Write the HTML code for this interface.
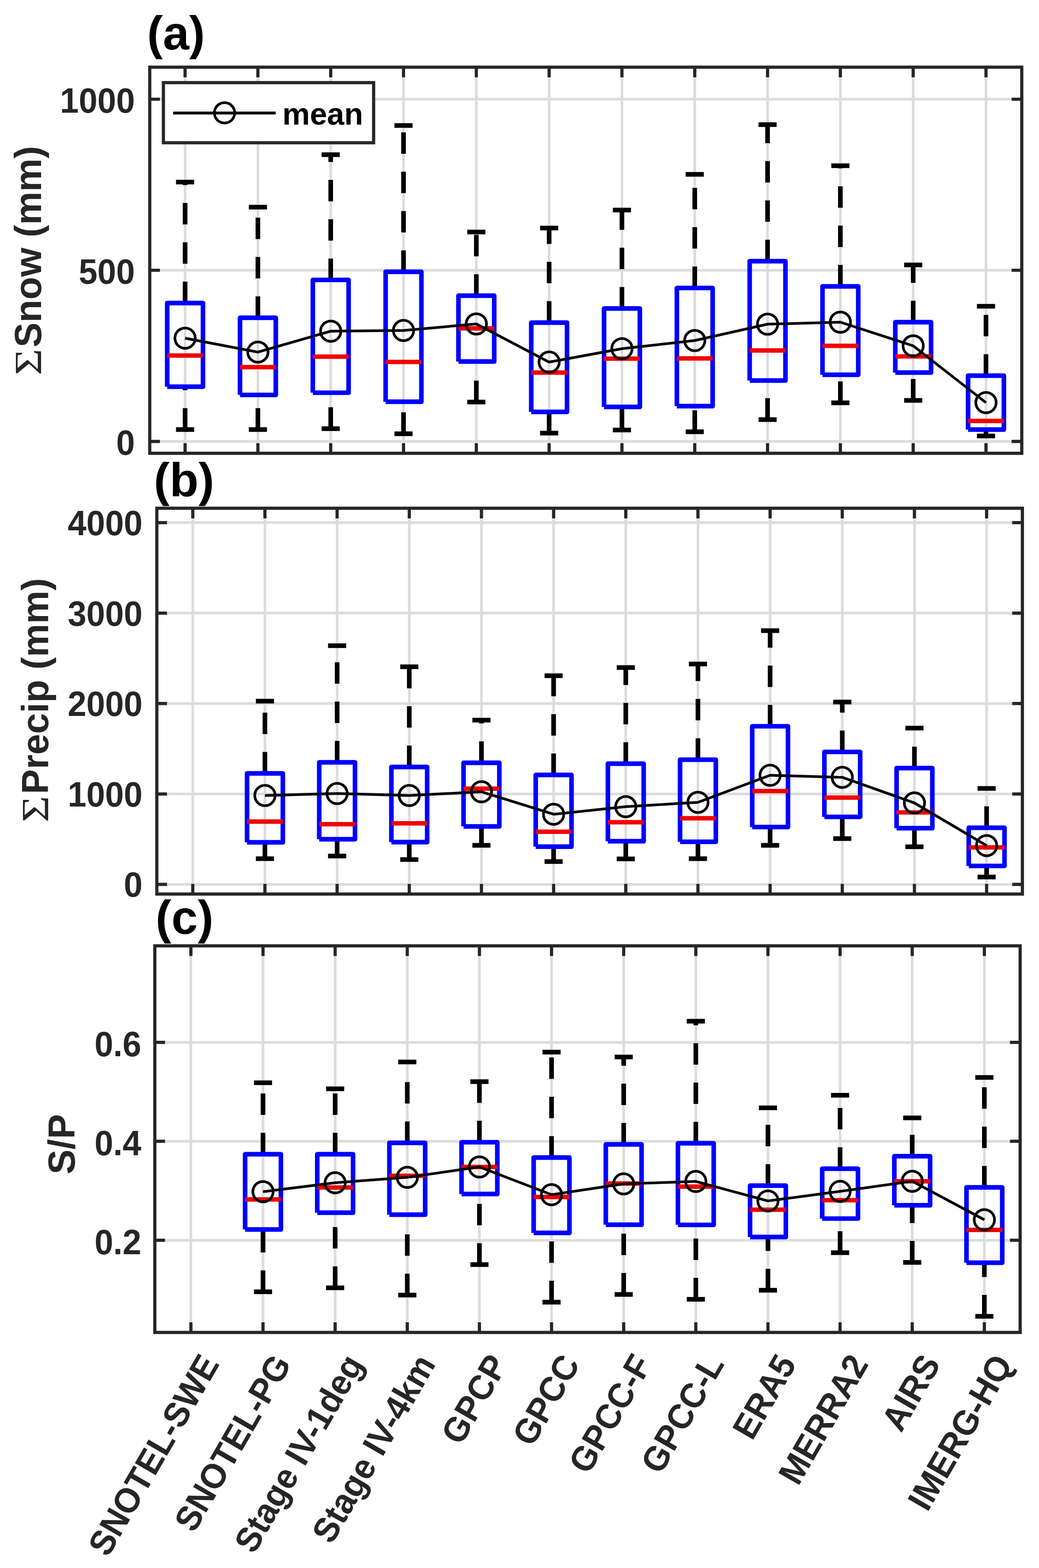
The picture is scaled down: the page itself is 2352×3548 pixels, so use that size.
<!DOCTYPE html><html><head><meta charset="utf-8"><title>Boxplots</title><style>html,body{margin:0;padding:0;background:#fff;}svg{display:block;}</style></head><body>
<svg width="2352" height="3548" viewBox="0 0 2352 3548">
<rect x="0" y="0" width="2352" height="3548" fill="#ffffff"/>
<g><path d="M419 152V1025.7M583.82 152V1025.7M748.64 152V1025.7M913.45 152V1025.7M1078.27 152V1025.7M1243.09 152V1025.7M1407.91 152V1025.7M1572.73 152V1025.7M1737.55 152V1025.7M1902.36 152V1025.7M2067.18 152V1025.7M2232 152V1025.7M339 998.8H2313M339 611.5H2313M339 224.5H2313" stroke="#dcdcdc" stroke-width="6.0" fill="none"/><g stroke="#000" stroke-width="10.5" fill="none" stroke-dasharray="48.5 40.5"><path d="M419 685.7V412M419 972V875"/><path d="M583.82 719V468.8M583.82 972V893.6"/><path d="M748.64 633.4V350M748.64 970V888.6"/><path d="M913.45 615V284M913.45 981.5V909"/><path d="M1078.27 669V525M1078.27 909.7V818"/><path d="M1243.09 730V516M1243.09 980V932"/><path d="M1407.91 698V475.3M1407.91 973V920.7"/><path d="M1572.73 651.6V394.6M1572.73 977V919"/><path d="M1737.55 591V282M1737.55 949.5V861"/><path d="M1902.36 648V375M1902.36 911.5V848"/><path d="M2067.18 729V599.4M2067.18 906V843"/><path d="M2232 850V693M2232 986.6V972"/></g><path d="M398.5 412H439.5M398.5 972H439.5M563.32 468.8H604.32M563.32 972H604.32M728.14 350H769.14M728.14 970H769.14M892.95 284H933.95M892.95 981.5H933.95M1057.77 525H1098.77M1057.77 909.7H1098.77M1222.59 516H1263.59M1222.59 980H1263.59M1387.41 475.3H1428.41M1387.41 973H1428.41M1552.23 394.6H1593.23M1552.23 977H1593.23M1717.05 282H1758.05M1717.05 949.5H1758.05M1881.86 375H1922.86M1881.86 911.5H1922.86M2046.68 599.4H2087.68M2046.68 906H2087.68M2211.5 693H2252.5M2211.5 986.6H2252.5" stroke="#000" stroke-width="10.5" fill="none"/><path d="M378.5 875V685.7H459.5V875H378.5M543.32 893.6V719H624.32V893.6H543.32M708.14 888.6V633.4H789.14V888.6H708.14M872.95 909V615H953.95V909H872.95M1037.77 818V669H1118.77V818H1037.77M1202.59 932V730H1283.59V932H1202.59M1367.41 920.7V698H1448.41V920.7H1367.41M1532.23 919V651.6H1613.23V919H1532.23M1697.05 861V591H1778.05V861H1697.05M1861.86 848V648H1942.86V848H1861.86M2026.68 843V729H2107.68V843H2026.68M2191.5 972V850H2272.5V972H2191.5" stroke="#0000ff" stroke-width="10.4" fill="none" stroke-linejoin="round"/><path d="M378.5 804.5H459.5M543.32 830.8H624.32M708.14 807H789.14M872.95 819H953.95M1037.77 743H1118.77M1202.59 843H1283.59M1367.41 811.5H1448.41M1532.23 811H1613.23M1697.05 793H1778.05M1861.86 782.6H1942.86M2026.68 806.6H2107.68M2191.5 952.5H2272.5" stroke="#f00000" stroke-width="10.0" fill="none"/><path d="M419 765.2L583.82 796.7L748.64 749.4L913.45 747.8L1078.27 733L1243.09 819.3L1407.91 789L1572.73 770.5L1737.55 733.5L1902.36 729L2067.18 782.5L2232 911" stroke="#000" stroke-width="6.0" fill="none" stroke-linejoin="round"/><g stroke="#000" stroke-width="6.0" fill="none"><circle cx="419" cy="765.2" r="23.0"/><circle cx="583.82" cy="796.7" r="23.0"/><circle cx="748.64" cy="749.4" r="23.0"/><circle cx="913.45" cy="747.8" r="23.0"/><circle cx="1078.27" cy="733" r="23.0"/><circle cx="1243.09" cy="819.3" r="23.0"/><circle cx="1407.91" cy="789" r="23.0"/><circle cx="1572.73" cy="770.5" r="23.0"/><circle cx="1737.55" cy="733.5" r="23.0"/><circle cx="1902.36" cy="729" r="23.0"/><circle cx="2067.18" cy="782.5" r="23.0"/><circle cx="2232" cy="911" r="23.0"/></g><path d="M419 152v23M419 1025.7v-23M583.82 152v23M583.82 1025.7v-23M748.64 152v23M748.64 1025.7v-23M913.45 152v23M913.45 1025.7v-23M1078.27 152v23M1078.27 1025.7v-23M1243.09 152v23M1243.09 1025.7v-23M1407.91 152v23M1407.91 1025.7v-23M1572.73 152v23M1572.73 1025.7v-23M1737.55 152v23M1737.55 1025.7v-23M1902.36 152v23M1902.36 1025.7v-23M2067.18 152v23M2067.18 1025.7v-23M2232 152v23M2232 1025.7v-23M339 998.8h23M2313 998.8h-23M339 611.5h23M2313 611.5h-23M339 224.5h23M2313 224.5h-23" stroke="#262626" stroke-width="7.2" fill="none"/><rect x="339" y="152" width="1974" height="873.7" stroke="#262626" stroke-width="7.2" fill="none" stroke-linejoin="miter"/><g font-family="'Liberation Sans', Arial, Helvetica, sans-serif" font-weight="bold" font-size="76.2" fill="#262626" text-anchor="end"><text transform="translate(305.3 1029) scale(1 1.04)">0</text><text transform="translate(305.3 641.7) scale(1 1.04)">500</text><text transform="translate(305.3 254.7) scale(1 1.04)">1000</text></g><text transform="translate(92.5 786.1) rotate(-90)" font-size="84.6" fill="#262626" font-family="'Liberation Sans', Arial, Helvetica, sans-serif" font-weight="bold">Snow (mm)</text><text transform="translate(92.5 849) rotate(-90) scale(1.182 1)" font-size="87" fill="#262626" font-family="'Liberation Serif', 'Times New Roman', serif">&#931;</text><text x="333.1" y="112.2" font-family="'Liberation Sans', Arial, Helvetica, sans-serif" font-weight="bold" font-size="107" fill="#000">(a)</text></g>
<g><path d="M436.4 1150V2023M599.76 1150V2023M763.13 1150V2023M926.49 1150V2023M1089.85 1150V2023M1253.22 1150V2023M1416.58 1150V2023M1579.95 1150V2023M1743.31 1150V2023M1906.67 1150V2023M2070.04 1150V2023M2233.4 1150V2023M355 2001.2H2314.4M355 1796.6H2314.4M355 1591.9H2314.4M355 1387.3H2314.4M355 1182.6H2314.4" stroke="#dcdcdc" stroke-width="6.0" fill="none"/><g stroke="#000" stroke-width="10.5" fill="none" stroke-dasharray="48.5 40.5"><path d="M599.76 1750V1586.6M599.76 1943V1906"/><path d="M763.13 1725V1461M763.13 1937V1899"/><path d="M926.49 1735.5V1508.7M926.49 1945V1905.5"/><path d="M1089.85 1726V1629.5M1089.85 1912.7V1870"/><path d="M1253.22 1753.5V1529M1253.22 1949.4V1915.8"/><path d="M1416.58 1728V1510.5M1416.58 1943.4V1903.5"/><path d="M1579.95 1719V1502.5M1579.95 1943V1904.7"/><path d="M1743.31 1643.4V1427M1743.31 1912.7V1871.4"/><path d="M1906.67 1701.4V1588.5M1906.67 1897.4V1848.4"/><path d="M2070.04 1738V1647.6M2070.04 1916V1874"/><path d="M2233.4 1873V1784M2233.4 1984.4V1959.4"/></g><path d="M579.26 1586.6H620.26M579.26 1943H620.26M742.63 1461H783.63M742.63 1937H783.63M905.99 1508.7H946.99M905.99 1945H946.99M1069.35 1629.5H1110.35M1069.35 1912.7H1110.35M1232.72 1529H1273.72M1232.72 1949.4H1273.72M1396.08 1510.5H1437.08M1396.08 1943.4H1437.08M1559.45 1502.5H1600.45M1559.45 1943H1600.45M1722.81 1427H1763.81M1722.81 1912.7H1763.81M1886.17 1588.5H1927.17M1886.17 1897.4H1927.17M2049.54 1647.6H2090.54M2049.54 1916H2090.54M2212.9 1784H2253.9M2212.9 1984.4H2253.9" stroke="#000" stroke-width="10.5" fill="none"/><path d="M559.26 1906V1750H640.26V1906H559.26M722.63 1899V1725H803.63V1899H722.63M885.99 1905.5V1735.5H966.99V1905.5H885.99M1049.35 1870V1726H1130.35V1870H1049.35M1212.72 1915.8V1753.5H1293.72V1915.8H1212.72M1376.08 1903.5V1728H1457.08V1903.5H1376.08M1539.45 1904.7V1719H1620.45V1904.7H1539.45M1702.81 1871.4V1643.4H1783.81V1871.4H1702.81M1866.17 1848.4V1701.4H1947.17V1848.4H1866.17M2029.54 1874V1738H2110.54V1874H2029.54M2192.9 1959.4V1873H2273.9V1959.4H2192.9" stroke="#0000ff" stroke-width="10.4" fill="none" stroke-linejoin="round"/><path d="M559.26 1859H640.26M722.63 1865H803.63M885.99 1863H966.99M1049.35 1784.5H1130.35M1212.72 1882H1293.72M1376.08 1860.6H1457.08M1539.45 1851.5H1620.45M1702.81 1790H1783.81M1866.17 1804.8H1947.17M2029.54 1838.3H2110.54M2192.9 1917.5H2273.9" stroke="#f00000" stroke-width="10.0" fill="none"/><path d="M599.76 1800L763.13 1795.6L926.49 1800L1089.85 1791.6L1253.22 1842.4L1416.58 1825.3L1579.95 1815.5L1743.31 1754.3L1906.67 1758.9L2070.04 1816.8L2233.4 1913.4" stroke="#000" stroke-width="6.0" fill="none" stroke-linejoin="round"/><g stroke="#000" stroke-width="6.0" fill="none"><circle cx="599.76" cy="1800" r="23.0"/><circle cx="763.13" cy="1795.6" r="23.0"/><circle cx="926.49" cy="1800" r="23.0"/><circle cx="1089.85" cy="1791.6" r="23.0"/><circle cx="1253.22" cy="1842.4" r="23.0"/><circle cx="1416.58" cy="1825.3" r="23.0"/><circle cx="1579.95" cy="1815.5" r="23.0"/><circle cx="1743.31" cy="1754.3" r="23.0"/><circle cx="1906.67" cy="1758.9" r="23.0"/><circle cx="2070.04" cy="1816.8" r="23.0"/><circle cx="2233.4" cy="1913.4" r="23.0"/></g><path d="M436.4 1150v23M436.4 2023v-23M599.76 1150v23M599.76 2023v-23M763.13 1150v23M763.13 2023v-23M926.49 1150v23M926.49 2023v-23M1089.85 1150v23M1089.85 2023v-23M1253.22 1150v23M1253.22 2023v-23M1416.58 1150v23M1416.58 2023v-23M1579.95 1150v23M1579.95 2023v-23M1743.31 1150v23M1743.31 2023v-23M1906.67 1150v23M1906.67 2023v-23M2070.04 1150v23M2070.04 2023v-23M2233.4 1150v23M2233.4 2023v-23M355 2001.2h23M2314.4 2001.2h-23M355 1796.6h23M2314.4 1796.6h-23M355 1591.9h23M2314.4 1591.9h-23M355 1387.3h23M2314.4 1387.3h-23M355 1182.6h23M2314.4 1182.6h-23" stroke="#262626" stroke-width="7.2" fill="none"/><rect x="355" y="1150" width="1959.4" height="873" stroke="#262626" stroke-width="7.2" fill="none" stroke-linejoin="miter"/><g font-family="'Liberation Sans', Arial, Helvetica, sans-serif" font-weight="bold" font-size="76.2" fill="#262626" text-anchor="end"><text transform="translate(322.7 2029.4) scale(1 1.04)">0</text><text transform="translate(322.7 1824.8) scale(1 1.04)">1000</text><text transform="translate(322.7 1620.1) scale(1 1.04)">2000</text><text transform="translate(322.7 1415.5) scale(1 1.04)">3000</text><text transform="translate(322.7 1210.8) scale(1 1.04)">4000</text></g><text transform="translate(109.3 1797) rotate(-90)" font-size="84.6" fill="#262626" font-family="'Liberation Sans', Arial, Helvetica, sans-serif" font-weight="bold">Precip (mm)</text><text transform="translate(109.3 1860.8) rotate(-90) scale(1.182 1)" font-size="87" fill="#262626" font-family="'Liberation Serif', 'Times New Roman', serif">&#931;</text><text x="348.3" y="1123" font-family="'Liberation Sans', Arial, Helvetica, sans-serif" font-weight="bold" font-size="107" fill="#000">(b)</text></g>
<g><path d="M432.1 2140.2V3015M595.39 2140.2V3015M758.68 2140.2V3015M921.97 2140.2V3015M1085.26 2140.2V3015M1248.55 2140.2V3015M1411.85 2140.2V3015M1575.14 2140.2V3015M1738.43 2140.2V3015M1901.72 2140.2V3015M2065.01 2140.2V3015M2228.3 2140.2V3015M350.5 2806.4H2309.3M350.5 2582.4H2309.3M350.5 2358.7H2309.3" stroke="#dcdcdc" stroke-width="6.0" fill="none"/><g stroke="#000" stroke-width="10.5" fill="none" stroke-dasharray="48.5 40.5"><path d="M595.39 2611.8V2450M595.39 2923V2782"/><path d="M758.68 2611.8V2463.7M758.68 2914V2744"/><path d="M921.97 2586V2403M921.97 2930.5V2748.5"/><path d="M1085.26 2584.6V2447.6M1085.26 2861.6V2701.8"/><path d="M1248.55 2619.3V2380.8M1248.55 2946.6V2789.8"/><path d="M1411.85 2589.5V2391.8M1411.85 2929V2771.3"/><path d="M1575.14 2587V2310.8M1575.14 2940V2771.6"/><path d="M1738.43 2682.8V2506.7M1738.43 2919.4V2799"/><path d="M1901.72 2644.5V2478.2M1901.72 2834.5V2757.4"/><path d="M2065.01 2616.3V2529.5M2065.01 2856.6V2727.2"/><path d="M2228.3 2686.8V2438M2228.3 2978.6V2857.2"/></g><path d="M574.89 2450H615.89M574.89 2923H615.89M738.18 2463.7H779.18M738.18 2914H779.18M901.47 2403H942.47M901.47 2930.5H942.47M1064.76 2447.6H1105.76M1064.76 2861.6H1105.76M1228.05 2380.8H1269.05M1228.05 2946.6H1269.05M1391.35 2391.8H1432.35M1391.35 2929H1432.35M1554.64 2310.8H1595.64M1554.64 2940H1595.64M1717.93 2506.7H1758.93M1717.93 2919.4H1758.93M1881.22 2478.2H1922.22M1881.22 2834.5H1922.22M2044.51 2529.5H2085.51M2044.51 2856.6H2085.51M2207.8 2438H2248.8M2207.8 2978.6H2248.8" stroke="#000" stroke-width="10.5" fill="none"/><path d="M554.89 2782V2611.8H635.89V2782H554.89M718.18 2744V2611.8H799.18V2744H718.18M881.47 2748.5V2586H962.47V2748.5H881.47M1044.76 2701.8V2584.6H1125.76V2701.8H1044.76M1208.05 2789.8V2619.3H1289.05V2789.8H1208.05M1371.35 2771.3V2589.5H1452.35V2771.3H1371.35M1534.64 2771.6V2587H1615.64V2771.6H1534.64M1697.93 2799V2682.8H1778.93V2799H1697.93M1861.22 2757.4V2644.5H1942.22V2757.4H1861.22M2024.51 2727.2V2616.3H2105.51V2727.2H2024.51M2187.8 2857.2V2686.8H2268.8V2857.2H2187.8" stroke="#0000ff" stroke-width="10.4" fill="none" stroke-linejoin="round"/><path d="M554.89 2714H635.89M718.18 2687H799.18M881.47 2660.5H962.47M1044.76 2640.5H1125.76M1208.05 2708.6H1289.05M1371.35 2678H1452.35M1534.64 2685H1615.64M1697.93 2737.3H1778.93M1861.22 2715.7H1942.22M2024.51 2673H2105.51M2187.8 2783H2268.8" stroke="#f00000" stroke-width="10.0" fill="none"/><path d="M595.39 2696.5L758.68 2676.3L921.97 2664.1L1085.26 2640.5L1248.55 2703.3L1411.85 2678.8L1575.14 2673.3L1738.43 2717.4L1901.72 2695.8L2065.01 2672.9L2228.3 2760" stroke="#000" stroke-width="6.0" fill="none" stroke-linejoin="round"/><g stroke="#000" stroke-width="6.0" fill="none"><circle cx="595.39" cy="2696.5" r="23.0"/><circle cx="758.68" cy="2676.3" r="23.0"/><circle cx="921.97" cy="2664.1" r="23.0"/><circle cx="1085.26" cy="2640.5" r="23.0"/><circle cx="1248.55" cy="2703.3" r="23.0"/><circle cx="1411.85" cy="2678.8" r="23.0"/><circle cx="1575.14" cy="2673.3" r="23.0"/><circle cx="1738.43" cy="2717.4" r="23.0"/><circle cx="1901.72" cy="2695.8" r="23.0"/><circle cx="2065.01" cy="2672.9" r="23.0"/><circle cx="2228.3" cy="2760" r="23.0"/></g><path d="M432.1 2140.2v23M432.1 3015v-23M595.39 2140.2v23M595.39 3015v-23M758.68 2140.2v23M758.68 3015v-23M921.97 2140.2v23M921.97 3015v-23M1085.26 2140.2v23M1085.26 3015v-23M1248.55 2140.2v23M1248.55 3015v-23M1411.85 2140.2v23M1411.85 3015v-23M1575.14 2140.2v23M1575.14 3015v-23M1738.43 2140.2v23M1738.43 3015v-23M1901.72 2140.2v23M1901.72 3015v-23M2065.01 2140.2v23M2065.01 3015v-23M2228.3 2140.2v23M2228.3 3015v-23M350.5 2806.4h23M2309.3 2806.4h-23M350.5 2582.4h23M2309.3 2582.4h-23M350.5 2358.7h23M2309.3 2358.7h-23" stroke="#262626" stroke-width="7.2" fill="none"/><rect x="350.5" y="2140.2" width="1958.8" height="874.8" stroke="#262626" stroke-width="7.2" fill="none" stroke-linejoin="miter"/><g font-family="'Liberation Sans', Arial, Helvetica, sans-serif" font-weight="bold" font-size="76.2" fill="#262626" text-anchor="end"><text transform="translate(319.8 2837.5) scale(1 1.04)">0.2</text><text transform="translate(319.8 2613.5) scale(1 1.04)">0.4</text><text transform="translate(319.8 2389.8) scale(1 1.04)">0.6</text></g><text transform="translate(168.7 2657.3) rotate(-90)" font-size="84.6" fill="#262626" font-family="'Liberation Sans', Arial, Helvetica, sans-serif" font-weight="bold">S/P</text><text x="352.3" y="2113" font-family="'Liberation Sans', Arial, Helvetica, sans-serif" font-weight="bold" font-size="107" fill="#000">(c)</text></g>
<rect x="369.9" y="187" width="475.9" height="136" fill="#fff" stroke="#262626" stroke-width="7.2"/>
<path d="M392 255.8H624" stroke="#000" stroke-width="6.5"/>
<circle cx="508.3" cy="255.3" r="23.0" stroke="#000" stroke-width="6.0" fill="none"/>
<text x="639.2" y="281.6" font-family="'Liberation Sans', Arial, Helvetica, sans-serif" font-weight="bold" font-size="70" fill="#000">mean</text>
<g font-family="'Liberation Sans', Arial, Helvetica, sans-serif" font-weight="bold" font-size="76.2" fill="#262626" text-anchor="end"><text transform="translate(498.1 3086) rotate(-60) scale(1 1.04)">SNOTEL-SWE</text><text transform="translate(661.39 3086) rotate(-60) scale(1 1.04)">SNOTEL-PG</text><text transform="translate(824.68 3086) rotate(-60) scale(1 1.04)">Stage IV-1deg</text><text transform="translate(987.97 3086) rotate(-60) scale(1 1.04)">Stage IV-4km</text><text transform="translate(1151.26 3086) rotate(-60) scale(1 1.04)">GPCP</text><text transform="translate(1314.55 3086) rotate(-60) scale(1 1.04)">GPCC</text><text transform="translate(1477.85 3086) rotate(-60) scale(1 1.04)">GPCC-F</text><text transform="translate(1641.14 3086) rotate(-60) scale(1 1.04)">GPCC-L</text><text transform="translate(1804.43 3086) rotate(-60) scale(1 1.04)">ERA5</text><text transform="translate(1967.72 3086) rotate(-60) scale(1 1.04)">MERRA2</text><text transform="translate(2131.01 3086) rotate(-60) scale(1 1.04)">AIRS</text><text transform="translate(2294.3 3086) rotate(-60) scale(1 1.04)">IMERG-HQ</text></g>
</svg></body></html>
